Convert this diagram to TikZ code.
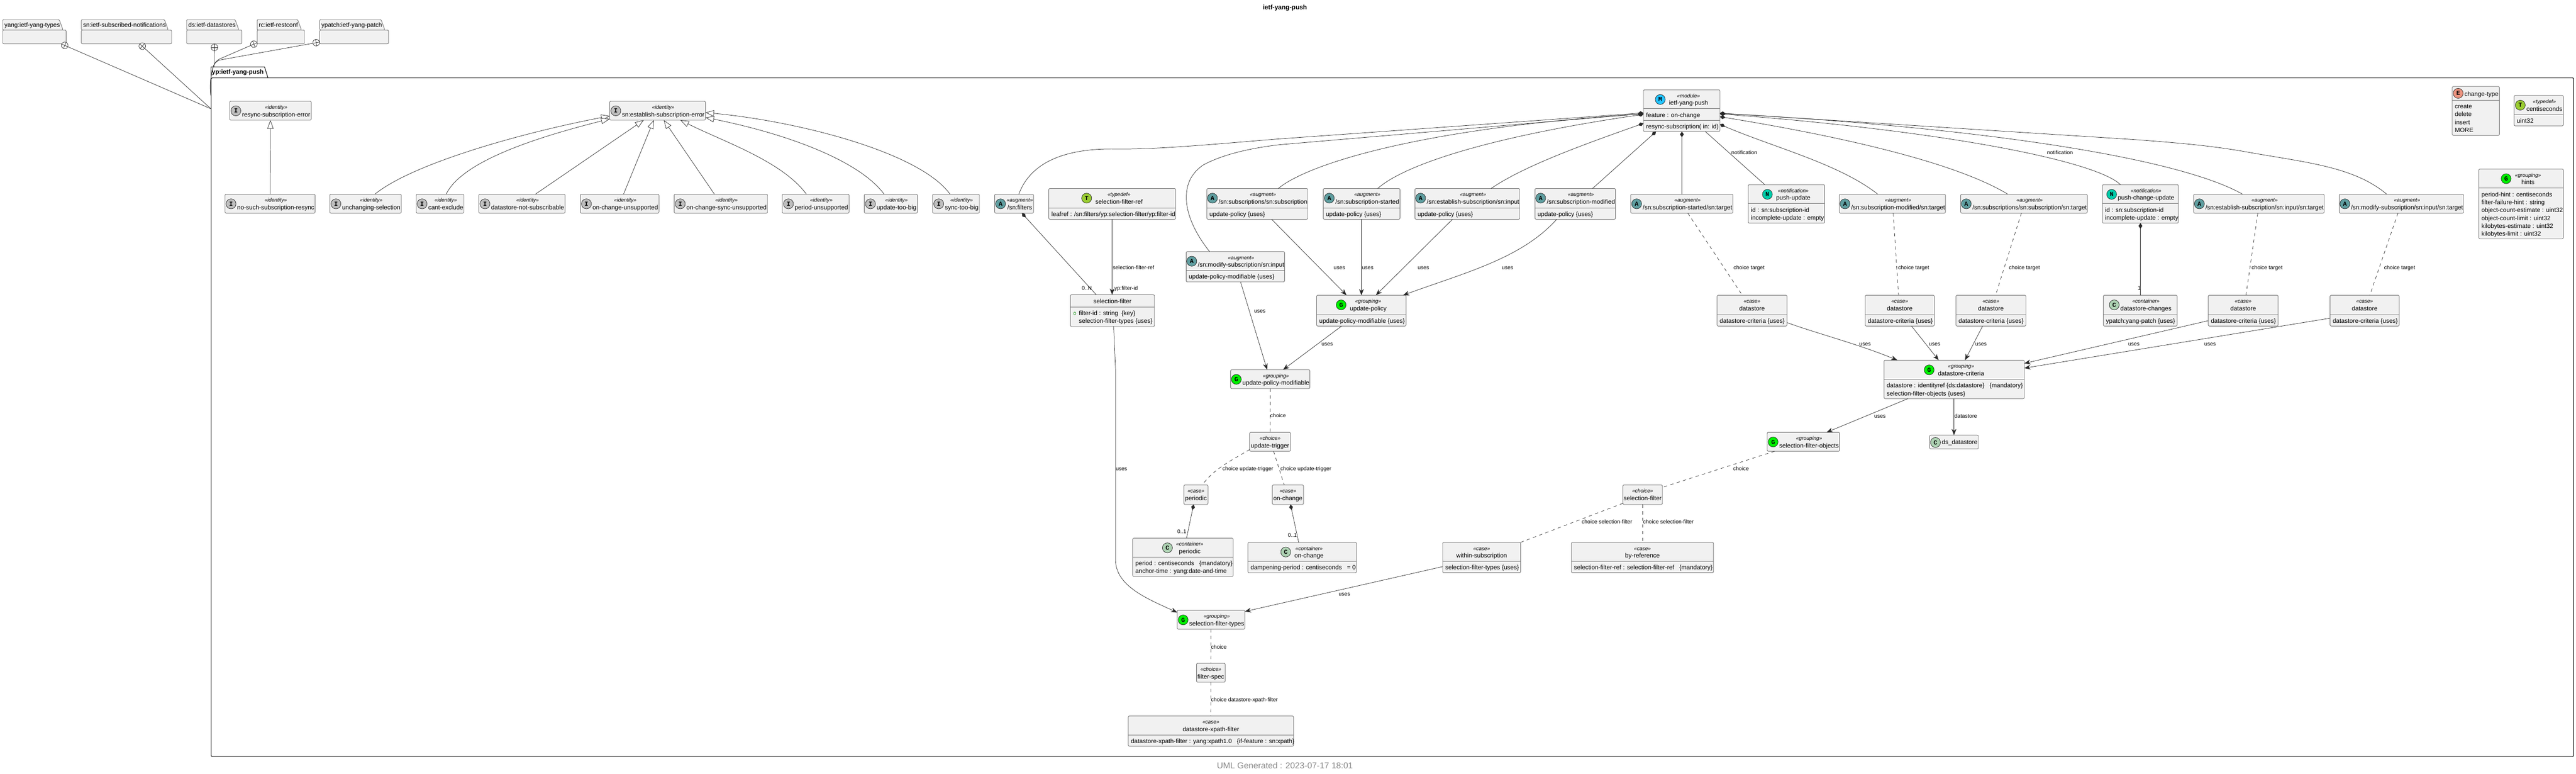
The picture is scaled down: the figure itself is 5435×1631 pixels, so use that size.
\documentclass[tikz,border=0pt]{standalone}
\usepackage{fontspec}
\setmainfont{Liberation Sans}
\setmonofont{Liberation Mono}
\usetikzlibrary{arrows.meta,shapes.geometric}
\definecolor{boxfill}{HTML}{F1F1F1}
\definecolor{boxline}{HTML}{707070}
\definecolor{wire}{HTML}{282828}
\definecolor{iconI}{HTML}{BEBEBE}
\definecolor{iconA}{HTML}{5F9EA0}
\definecolor{iconM}{HTML}{22C3FF}
\definecolor{iconT}{HTML}{9ACD32}
\definecolor{iconG}{HTML}{00F000}
\definecolor{iconN}{HTML}{00CDAA}
\definecolor{iconE}{HTML}{EB937F}
\definecolor{iconC}{HTML}{ADD1B2}
\newcommand{\titlefont}{\fontsize{13}{15}\selectfont}
\newcommand{\stereofont}{\fontsize{11}{13}\selectfont\itshape}
\newlength{\titlew}
\newlength{\stereow}
\tikzset{
	umlbox/.style={draw=boxline,fill=boxfill,line width=1pt,rounded corners=2.5pt,inner sep=0pt,outer sep=0pt},
	umlrule/.style={draw=boxline,line width=1pt},
	umlicon/.style={draw=black!85,line width=.8pt,circle,inner sep=0pt,minimum size=21pt,font=\fontsize{13}{13}\selectfont\ttfamily\bfseries},
	headtitle/.style={anchor=base,inner sep=0pt,font=\titlefont},
	headstereo/.style={anchor=base,inner sep=0pt,font=\stereofont},
	member/.style={anchor=base west,inner sep=0pt,font=\titlefont},
	edgelabel/.style={anchor=base west,inner sep=0pt,font=\fontsize{11.4}{13}\selectfont},
	pkgname/.style={anchor=base west,inner sep=0pt,font=\titlefont},
	importmark/.style={draw=wire,line width=.8pt,fill=white,circle,inner sep=0pt,minimum size=14pt,outer sep=0pt},
	wireline/.style={draw=wire,line width=.8pt},
	extends/.style={wireline,-{Triangle[fill=white,length=18pt,width=13pt]}},
	composed/.style={wireline,-{Diamond[length=12pt,width=8pt]}},
	uses/.style={wireline,-{Stealth[length=13pt,width=10pt,inset=4pt]}},
	choiceline/.style={wireline,dash pattern=on 7pt off 7pt}
}
% box with an icon: name, x1, y1, x2, y2, letter, colour, stereotype, title
\newcommand{\iconbox}[9]{
	\node[umlbox,name=#1,minimum width={(#4-#2)*1pt},minimum height={(#5-#3)*1pt}] at ({(#2+#4)/2},{(#3+#5)/2}){};
	\pgfinterruptpicture
		\settowidth{\titlew}{\titlefont #9}\global\titlew=\titlew
		\settowidth{\stereow}{\stereofont «#8»}\global\stereow=\stereow
	\endpgfinterruptpicture
	\pgfmathsetmacro\widest{max(\titlew,\stereow)}
	\pgfmathsetmacro\headgap{(#4-#2-\widest)>60 ? 18.5 : 13}
	\pgfmathsetmacro\headoff{(#4-#2-\widest)>60 ? 14.5 : 12}
	\pgfmathsetmacro\headx{(#2+#4)/2+\headoff}
	\pgfmathsetmacro\iconx{\headx-\widest/2-\headgap}
	\node[umlicon,fill=#7,name=#1i] at (\iconx,{#3+20.4}){#6};
	\node[headstereo,name=#1s] at (\headx,{#3+16.7}){«#8»};
	\node[headtitle,name=#1t] at (\headx,{#3+32.4}){#9};
}
% box without icon: name, x1, y1, x2, y2, stereotype, title
\newcommand{\plainbox}[7]{
	\node[umlbox,name=#1,minimum width={(#4-#2)*1pt},minimum height={(#5-#3)*1pt}] at ({(#2+#4)/2},{(#3+#5)/2}){};
	\node[headstereo,name=#1s] at ({(#2+#4)/2},{#3+16.7}){«#6»};
	\node[headtitle,name=#1t] at ({(#2+#4)/2},{#3+32.4}){#7};
}
% rule and rows of a box: [indent] name, y of rule, rows
\newcommand{\members}[4][5.4]{
	\draw[umlrule] (#2.west |- 0,#3) -- (#2.east |- 0,#3);
	\foreach [count=\rownr] \txt in {#4}{
		\pgfmathsetmacro\rowy{#3+17.5+16.7*(\rownr-1)}
		\node[member,name=#2m\rownr] at ([xshift=#1pt]#2.west |- 0,\rowy){\txt};
	}
}
\begin{document}
\begin{tikzpicture}[x=1pt,y=-1pt]
	\useasboundingbox (0,0) rectangle (5435,1631);
	\node[inner sep=0pt,name=diagramtitle,font=\fontsize{13.5}{15}\selectfont\bfseries] at (2711,17){ietf-yang-push};
	\node[inner sep=0pt,name=stamp,text=black!47,font=\fontsize{18}{20}\selectfont] at (2711,1614){UML Generated : 2023-07-17 18:01};
	% imported modules
	\foreach \nm/\xa/\xb/\xt/\ti in {yang/5.7/139.5/133/yang:ietf-yang-types,sn/171.6/362/355/sn:ietf-subscribed-notifications,ds/393.8/510.3/504/ds:ietf-datastores,rc/542.5/642.4/636/rc:ietf-restconf,ypatch/674.5/819.7/812/ypatch:ietf-yang-patch}{
		\draw[umlbox] (\xa,63.3) -- (\xa,41.3) -- ({\xt-8},41.3) -- (\xt,63.3) -- cycle;
		\node[umlbox,name=\nm,minimum width={(\xb-\xa)*1pt},minimum height=29pt] at ({(\xa+\xb)/2},77.8){};
		\node[pkgname,name=\nm t] at ({\xa+3.5},56.7){\ti};
	}
	% package of the module
	\node[name=yp,draw=black,line width=1.2pt,rounded corners=2.5pt,inner sep=0pt,minimum width=4984.5pt,minimum height=1430.8pt] at (2937.75,879.4){};
	\node[name=yptab,inner sep=0pt,minimum width=112.5pt,minimum height=22.7pt,font=\titlefont\bfseries] at (501.7,152.65){yp:ietf-yang-push};
	\draw[line width=1.2pt] (yptab.south west) -- (yptab.north west) -- (yptab.north east) -- (565.4,0 |- yptab.south);
	% imports
	\foreach \nm/\cx/\cy/\ang in {cyang/136.6/95.7/-23,csn/300.2/97.3/-42,cds/452.4/100/0,crc/535.6/93/23,cypatch/667/90/10}{
		\node[importmark,rotate=\ang,name=\nm] at (\cx,\cy){};
		\draw[wireline] (\nm.north) -- (\nm.south);
		\draw[wireline] (\nm.west) -- (\nm.east);
	}
	\draw[wireline] (cyang) -- (yp.west |- 0,229.3);
	\draw[wireline] (csn) -- (yp.west |- 0,229.3);
	\draw[wireline] (cds.south) -- (452,0 |- yptab.north);
	\draw[wireline] (crc) -- (464,124) .. controls (456,128) and (451,135) .. (449.5,142) .. controls (443,165) and (443,185) .. (yp.west |- 0,201.7);
	\draw[wireline] (cypatch) -- (464,126.5) .. controls (456,129) and (451,135) .. (449.5,142) .. controls (443,165) and (443,185) .. (yp.west |- 0,201.7);
	% identities
	\iconbox{resync}{484.5}{213.3}{656.7}{253.3}{I}{iconI}{identity}{resync-subscription-error}
	\iconbox{snerror}{1286.3}{213.3}{1488.4}{253.3}{I}{iconI}{identity}{sn:establish-subscription-error}
	\foreach \nm/\xa/\xb/\ti in {nosuch/474.7/664.8/no-such-subscription-resync,unchanging/695.8/846.7/unchanging-selection,cantexclude/878.3/978.6/cant-exclude,notsub/1010.2/1192.2/datastore-not-subscribable,ocunsup/1224.3/1390.3/on-change-unsupported,ocsync/1422.4/1619.3/on-change-sync-unsupported,periodun/1650.3/1791.5/period-unsupported,updbig/1823.5/1935.5/update-too-big,syncbig/1967.6/2066.4/sync-too-big}{
		\iconbox{\nm}{\xa}{409.3}{\xb}{449.3}{I}{iconI}{identity}{\ti}
	}
	% module and top level types
	\iconbox{module}{3467.5}{189.3}{3628.6}{277.3}{M}{iconM}{module}{ietf-yang-push}
	\members{module}{229.3}{feature : on-change}
	\members{module}{253.3}{resync-subscription( in: id)}
	\node[umlbox,name=changetype,minimum width=99.6pt,minimum height=103pt] at (5223.6,233.8){};
	\node[umlicon,fill=iconE,name=changetypei] at (5186.4,196.7){E};
	\node[member,name=changetypet] at (5199.5,202.3){change-type};
	\members{changetype}{211.3}{create,delete,insert,MORE}
	\iconbox{centisec}{5304.4}{201.3}{5408.2}{265.3}{T}{iconT}{typedef}{centiseconds}
	\members{centisec}{241.3}{uint32}
	\iconbox{hints}{5229.9}{356.3}{5408.2}{503.3}{G}{iconG}{grouping}{hints}
	\members{hints}{396.7}{period-hint : centiseconds,filter-failure-hint : string,object-count-estimate : uint32,object-count-limit : uint32,kilobytes-estimate : uint32,kilobytes-limit : uint32}
	\iconbox{filterref}{2212.7}{397.3}{2480.3}{462.3}{T}{iconT}{typedef}{selection-filter-ref}
	\members{filterref}{438.3}{leafref : /sn:filters/yp:selection-filter/yp:filter-id}
	% augments
	\iconbox{filters}{2098.5}{409.3}{2180.6}{449.3}{A}{iconA}{augment}{/sn:filters}
	\iconbox{subs}{2546.3}{397.3}{2759}{462.3}{A}{iconA}{augment}{/sn:subscriptions/sn:subscription}
	\members{subs}{438.3}{update-policy \{uses\}}
	\iconbox{started}{2791.8}{397.3}{2953.7}{462.3}{A}{iconA}{augment}{/sn:subscription-started}
	\members{started}{438.3}{update-policy \{uses\}}
	\iconbox{estinput}{2985.3}{397.3}{3206.3}{462.3}{A}{iconA}{augment}{/sn:establish-subscription/sn:input}
	\members{estinput}{438.3}{update-policy \{uses\}}
	\iconbox{modified}{3238.5}{397.3}{3408.4}{462.3}{A}{iconA}{augment}{/sn:subscription-modified}
	\members{modified}{438.3}{update-policy \{uses\}}
	\iconbox{modinput}{2502.6}{530.3}{2710.3}{594.3}{A}{iconA}{augment}{/sn:modify-subscription/sn:input}
	\members{modinput}{570.3}{update-policy-modifiable \{uses\}}
	\iconbox{starttgt}{3440.5}{409.3}{3656.3}{449.3}{A}{iconA}{augment}{/sn:subscription-started/sn:target}
	\iconbox{modiftgt}{3880.7}{409.3}{4104.6}{449.3}{A}{iconA}{augment}{/sn:subscription-modified/sn:target}
	\iconbox{substgt}{4136.7}{409.3}{4403.7}{449.3}{A}{iconA}{augment}{/sn:subscriptions/sn:subscription/sn:target}
	\iconbox{esttgt}{4628.2}{409.3}{4903.7}{449.3}{A}{iconA}{augment}{/sn:establish-subscription/sn:input/sn:target}
	\iconbox{modtgt}{4935.3}{409.3}{5197.7}{449.3}{A}{iconA}{augment}{/sn:modify-subscription/sn:input/sn:target}
	% notifications
	\iconbox{pushup}{3688.4}{389.3}{3849.7}{470.3}{N}{iconN}{notification}{push-update}
	\members{pushup}{429.3}{id : sn:subscription-id,incomplete-update : empty}
	\iconbox{pushchg}{4435.8}{389.3}{4596}{470.3}{N}{iconN}{notification}{push-change-update}
	\members{pushchg}{429.3}{id : sn:subscription-id,incomplete-update : empty}
	\iconbox{dschanges}{4437.6}{622.3}{4593.5}{687.3}{C}{iconC}{container}{datastore-changes}
	\members{dschanges}{663.3}{ypatch:yang-patch \{uses\}}
	% selection filter list
	\node[umlbox,name=selfilter,minimum width=177.4pt,minimum height=67pt] at (2347,654.8){};
	\node[headtitle,name=selfiltert] at (2347,639.3){selection-filter};
	\members[17.8]{selfilter}{647.3}{filter-id : string\ \ \{key\},selection-filter-types \{uses\}}
	\node[draw=green!55!black,line width=.7pt,ellipse,inner sep=0pt,minimum width=4.5pt,minimum height=6pt,name=keymark] at (2267.5,660.7){};
	% datastore cases
	\foreach \nm/\xa/\xb in {caseone/3622.7/3770.3,casetwo/3935.2/4081.1,casethree/4126.7/4274.3,casefour/4659/4806.6,casefive/4916.1/5062}{
		\plainbox{\nm}{\xa}{622.3}{\xb}{687.3}{case}{datastore}
		\members{\nm}{663.3}{datastore-criteria \{uses\}}
	}
	% groupings
	\iconbox{policy}{2777.8}{622.3}{2966.6}{687.3}{G}{iconG}{grouping}{update-policy}
	\members{policy}{663.3}{update-policy-modifiable \{uses\}}
	\iconbox{policymod}{2596.4}{779.3}{2763.5}{819.3}{G}{iconG}{grouping}{update-policy-modifiable}
	\iconbox{criteria}{3975}{759.3}{4271}{840.3}{G}{iconG}{grouping}{datastore-criteria}
	\members{criteria}{799.7}{datastore : identityref \{ds:datastore\}\ \ \ \{mandatory\},selection-filter-objects \{uses\}}
	\iconbox{selobjects}{3728.4}{911.3}{3881.3}{951.3}{G}{iconG}{grouping}{selection-filter-objects}
	\iconbox{seltypes}{2483.7}{1286.3}{2626.5}{1326.3}{G}{iconG}{grouping}{selection-filter-types}
	\node[umlbox,name=dsclass,minimum width=102.9pt,minimum height=29pt] at (4122.6,931.8){};
	\node[umlicon,fill=iconC,name=dsclassi] at (4083.6,932.7){C};
	\node[member,name=dsclasst] at (4096.8,936.7){ds\_datastore};
	% choices and cases
	\plainbox{trigger}{2636.6}{911.3}{2722.7}{951.3}{choice}{update-trigger}
	\plainbox{periodcase}{2497.7}{1022.3}{2548.8}{1063.3}{case}{periodic}
	\plainbox{oncase}{2684.3}{1022.3}{2750.3}{1063.3}{case}{on-change}
	\iconbox{periodcont}{2389.9}{1134.4}{2601.7}{1215.2}{C}{iconC}{container}{periodic}
	\members{periodcont}{1174.4}{period : centiseconds\ \ \ \{mandatory\},anchor-time : yang:date-and-time}
	\iconbox{oncont}{2632.9}{1143.3}{2861.9}{1207.4}{C}{iconC}{container}{on-change}
	\members{oncont}{1183.3}{dampening-period : centiseconds\ \ \ = 0}
	\plainbox{selchoice}{3423.9}{1022.3}{3507.4}{1063.3}{choice}{selection-filter}
	\plainbox{within}{3043.8}{1143.3}{3208.3}{1207.3}{case}{within-subscription}
	\members{within}{1183.3}{selection-filter-types \{uses\}}
	\plainbox{byref}{3315.4}{1143.3}{3615.2}{1207.3}{case}{by-reference}
	\members{byref}{1183.3}{selection-filter-ref : selection-filter-ref\ \ \ \{mandatory\}}
	\plainbox{filterspec}{2524.5}{1398.1}{2585}{1438.1}{choice}{filter-spec}
	\plainbox{xpathcase}{2380.4}{1509.3}{2729.2}{1573}{case}{datastore-xpath-filter}
	\members{xpathcase}{1549.6}{datastore-xpath-filter : yang:xpath1.0\ \ \ \{if-feature : sn:xpath\}}
	% identity tree
	\draw[extends] (nosuch.north) -- (resync.south);
	\draw[extends] (791,0 |- unchanging.north) .. controls (870,345) and (1100,280) .. (snerror.west |- 0,244.5);
	\draw[extends] (941.3,0 |- cantexclude.north) .. controls (975,340) and (1130,290) .. (snerror.west |- 0,250.7);
	\draw[extends] (1129.6,0 |- notsub.north) -- (1358,0 |- snerror.south);
	\draw[extends] (1315.6,0 |- ocunsup.north) -- (1379.3,0 |- snerror.south);
	\draw[extends] (1507.3,0 |- ocsync.north) -- (1400.6,0 |- snerror.south);
	\draw[extends] (1701.4,0 |- periodun.north) .. controls (1650,340) and (1530,300) .. (1435.6,0 |- snerror.south);
	\draw[extends] (1865.4,0 |- updbig.north) .. controls (1810,335) and (1650,280) .. (snerror.east |- 0,247.7);
	\draw[extends] (2004.4,0 |- syncbig.north) .. controls (1940,320) and (1680,255) .. (snerror.east |- 0,237.3);
	% module members, left side
	\draw[composed] (2149.6,0 |- filters.north) .. controls (2175,340) and (2250,314) .. (2345,314) .. controls (2440,316) and (2570,303) .. (2700,292.7) -- (module.west |- 0,238);
	\draw[composed] (2552,0 |- modinput.north) .. controls (2520,490) and (2503,450) .. (2503,416.7) .. controls (2503,385) and (2515,365) .. (2537.7,348.3) .. controls (2580,325) and (2640,312) .. (2700,305) -- (module.west |- 0,239.5);
	\draw[composed] (2697,0 |- subs.north) .. controls (2760,345) and (3000,270) .. (module.west |- 0,240);
	\draw[composed] (2906.7,0 |- started.north) .. controls (2960,350) and (3130,290) .. (module.west |- 0,241);
	\draw[composed] (3146,0 |- estinput.north) .. controls (3215,350) and (3340,305) .. (module.west |- 0,260);
	\draw[composed] (3360,0 |- modified.north) -- (3494,0 |- module.south);
	\draw[composed] (3548.5,0 |- starttgt.north) -- (3548.5,0 |- module.south);
	\draw[wireline] (3723.4,0 |- pushup.north) -- (3598,0 |- module.south);
	% module members, right side
	\draw[composed] (3961.7,0 |- modiftgt.north) .. controls (3880,345) and (3740,310) .. (module.east |- 0,262);
	\draw[composed] (4236,0 |- substgt.north) .. controls (4130,345) and (3900,290) .. (module.east |- 0,246);
	\draw[composed] (4473.7,0 |- pushchg.north) .. controls (4430,345) and (4150,280) .. (module.east |- 0,240);
	\draw[composed] (4731.4,0 |- esttgt.north) .. controls (4600,335) and (4200,270) .. (module.east |- 0,239);
	\draw[composed] (5035.5,0 |- modtgt.north) .. controls (4965,350) and (4860,342) .. (4738.5,320) .. controls (4660,306) and (4580,300) .. (4500,294) -- (module.east |- 0,238.5);
	% filters
	\draw[composed] (2312.9,0 |- selfilter.north) -- (2156,0 |- filters.south);
	\draw[uses] (2346.4,0 |- filterref.south) -- (2346.4,0 |- selfilter.north);
	\draw[uses] (2349.6,0 |- selfilter.south) -- (2353.6,780) -- (2353.6,1180) .. controls (2353.6,1235) and (2420,1262) .. (seltypes.west |- 0,1291);
	\draw[uses] (within.west |- 0,1194.4) -- (seltypes.east |- 0,1289);
	% update policy
	\draw[uses] (2617.4,0 |- modinput.south) -- (2673.4,0 |- policymod.north);
	\draw[uses] (2830.6,0 |- policy.south) -- (2707.2,0 |- policymod.north);
	\draw[uses] (2682.9,0 |- subs.south) -- (2841,0 |- policy.north);
	\draw[uses] (2872.4,0 |- started.south) -- (2872.4,0 |- policy.north);
	\draw[uses] (3064.5,0 |- estinput.south) -- (2902.9,0 |- policy.north);
	\draw[uses] (3284.4,0 |- modified.south) .. controls (3210,545) and (3090,575) .. (2960.3,0 |- policy.north);
	\draw[choiceline] (policymod.south) -- (trigger.north);
	\draw[choiceline] (trigger.west |- 0,947.7) .. controls (2590,975) and (2560,990) .. (2536.7,0 |- periodcase.north);
	\draw[choiceline] (2687.1,0 |- trigger.south) -- (2709.5,0 |- oncase.north);
	\draw[composed] (2503.4,0 |- periodcont.north) -- (2518.4,0 |- periodcase.south);
	\draw[composed] (2740,0 |- oncont.north) -- (2722.7,0 |- oncase.south);
	% targets
	\draw[choiceline] (3561,0 |- starttgt.south) -- (3676,0 |- caseone.north);
	\draw[choiceline] (3994.4,0 |- modiftgt.south) -- (4005.6,0 |- casetwo.north);
	\draw[choiceline] (4264.8,0 |- substgt.south) -- (4210.4,0 |- casethree.north);
	\draw[choiceline] (4763.6,0 |- esttgt.south) -- (4738.6,0 |- casefour.north);
	\draw[choiceline] (5059.3,0 |- modtgt.south) -- (4999.9,0 |- casefive.north);
	\draw[composed] (4516,0 |- dschanges.north) -- (4516,0 |- pushchg.south);
	% datastore criteria
	\draw[uses] (caseone.east |- 0,680) .. controls (3830,702) and (3920,725) .. (4003,0 |- criteria.north);
	\draw[uses] (4033,0 |- casetwo.south) -- (4090.2,0 |- criteria.north);
	\draw[uses] (4183,0 |- casethree.south) -- (4145.8,0 |- criteria.north);
	\draw[uses] (casefour.west |- 0,676) -- (criteria.east |- 0,766);
	\draw[uses] (casefive.west |- 0,670.7) -- (criteria.east |- 0,776);
	\draw[uses] (4025.5,0 |- criteria.south) -- (3853.9,0 |- selobjects.north);
	\draw[uses] (4122.6,0 |- criteria.south) -- (4122.6,0 |- dsclass.north);
	\draw[choiceline] (3743.9,0 |- selobjects.south) -- (selchoice.east |- 0,1027.3);
	\draw[choiceline] (selchoice.west |- 0,1061) -- (within.east |- 0,1143.3);
	\draw[choiceline] (3465.3,0 |- selchoice.south) -- (3465.3,0 |- byref.north);
	\draw[choiceline] (seltypes.south) -- (filterspec.north);
	\draw[choiceline] (filterspec.south) -- (2554.5,0 |- xpathcase.north);
	% connector labels
	\foreach \tx/\ty/\lb [count=\i] in {2347.6/564/selection-filter-ref,2351/607.7/yp:filter-id,2282.4/607.7/0..N,2354/988.7/uses,2645.8/656/uses,2788/725/uses,2813.7/564/uses,2873.4/564/uses,2991/564/uses,3168.4/564/uses,3652.8/321.7/notification,4318.7/321.7/notification,3657.4/564/choice target,4004.7/564/choice target,4238.4/564/choice target,4750.4/564/choice target,5030/564/choice target,4510/608/1,3922.7/725/uses,4069.5/725/uses,4167.3/725/uses,4489.9/725/uses,4650.7/725/uses,3954.2/877/uses,4123.4/877/datastore,3656.6/988.7/choice,3337/1100.3/choice selection-filter,3466.6/1100.3/choice selection-filter,2824.2/1252.2/uses,2680/876.7/choice,2579.2/988.7/choice update-trigger,2701.5/988.7/choice update-trigger,2483.7/1120.4/0..1,2717/1128.9/0..1,2555/1364/choice,2555/1475.2/choice datastore-xpath-filter}{
		\node[edgelabel,name=L\i] at (\tx,{\ty+3.7}){\lb};
	}
\end{tikzpicture}
\end{document}
